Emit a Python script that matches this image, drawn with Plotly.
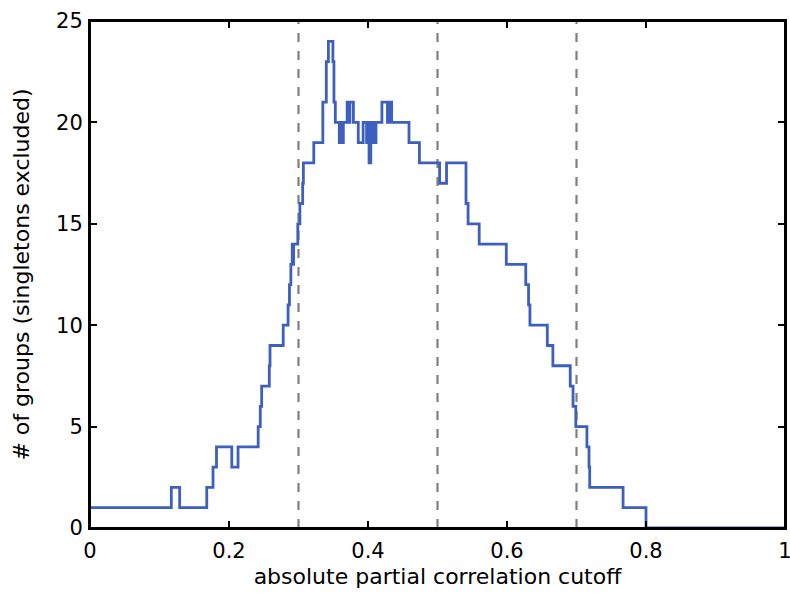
import plotly.graph_objects as go

# Step function: each cutoff value starts a new level of the group count
cutoff = [0.000, 0.117, 0.129, 0.168, 0.177, 0.182, 0.204, 0.213, 0.242, 0.245,
          0.247, 0.258, 0.259, 0.278, 0.285, 0.287, 0.289, 0.291, 0.292, 0.293,
          0.299, 0.302, 0.306, 0.307, 0.322, 0.335, 0.340, 0.343, 0.3495, 0.351,
          0.353, 0.3587, 0.361, 0.362, 0.3645, 0.370, 0.373, 0.374, 0.379, 0.386,
          0.393, 0.398, 0.400, 0.4015, 0.404, 0.405, 0.407, 0.409, 0.4115, 0.420,
          0.428, 0.429, 0.431, 0.432, 0.434, 0.459, 0.474, 0.503, 0.513, 0.541,
          0.544, 0.560, 0.599, 0.627, 0.631, 0.633, 0.658, 0.666, 0.691, 0.695,
          0.699, 0.715, 0.718, 0.719, 0.767, 0.800, 1.000]
groups = [1, 2, 1, 2, 3, 4, 3, 4, 5, 6,
          7, 8, 9, 10, 11, 12, 13, 14, 13, 14,
          15, 16, 17, 18, 19, 21, 23, 24, 23, 21,
          20, 19, 20, 19, 20, 21, 20, 21, 20, 19,
          20, 19, 20, 18, 20, 19, 20, 19, 20, 21,
          20, 21, 20, 21, 20, 19, 18, 17, 18, 16,
          15, 14, 13, 12, 11, 10, 9, 8, 7, 6,
          5, 4, 3, 2, 1, 0, 0]

cutoff_marks = [0.3, 0.5, 0.7]
x_ticks = [0, 0.2, 0.4, 0.6, 0.8, 1]
x_tick_labels = ["0", "0.2", "0.4", "0.6", "0.8", "1"]
y_ticks = [0, 5, 10, 15, 20, 25]

fig = go.Figure()
fig.add_trace(go.Scatter(
    x=cutoff, y=groups, mode="lines",
    line=dict(color="#3d5fbf", width=2.8, shape="hv"),
    showlegend=False,
))

for c in cutoff_marks:
    fig.add_shape(type="line", xref="x", yref="paper", x0=c, x1=c, y0=0, y1=1,
                  line=dict(color="#7f7f7f", width=2.2, dash="9px,9px"), layer="below")

# full box around the plot area
fig.add_shape(type="rect", xref="paper", yref="paper", x0=0, x1=1, y0=0, y1=1,
              line=dict(color="black", width=2), fillcolor="rgba(0,0,0,0)", layer="above")

fam = "DejaVu Sans, Liberation Sans, Arial, sans-serif"
tick_font = dict(family=fam, size=21, color="black")
title_font = dict(family=fam, size=22, color="black")

axis_common = dict(
    showgrid=False, zeroline=False, automargin=False,
    showline=True, linecolor="black", linewidth=2, mirror="ticks",
    ticks="inside", ticklen=7, tickwidth=2, tickcolor="black",
    tickfont=tick_font, ticklabeloverflow="allow",
)

fig.update_layout(
    width=790, height=594,
    margin=dict(l=90, r=5, t=21, b=66),
    paper_bgcolor="white", plot_bgcolor="rgba(0,0,0,0)",
    font=tick_font,
    xaxis=dict(
        range=[0, 1], tickvals=x_ticks, ticktext=x_tick_labels,
        ticklabelstandoff=3,
        title=dict(text="absolute partial correlation cutoff", font=title_font, standoff=6),
        **axis_common,
    ),
    yaxis=dict(
        range=[0, 25], tickvals=y_ticks,
        ticklabelstandoff=1,
        title=dict(text="# of groups (singletons excluded)", font=title_font, standoff=20),
        **axis_common,
    ),
)

# remove the page's default body margin so the figure fills the window exactly
fig.write_html("out.html",
               config={"displayModeBar": False},
               post_script="document.body.style.margin='0';document.body.style.overflow='hidden';")
